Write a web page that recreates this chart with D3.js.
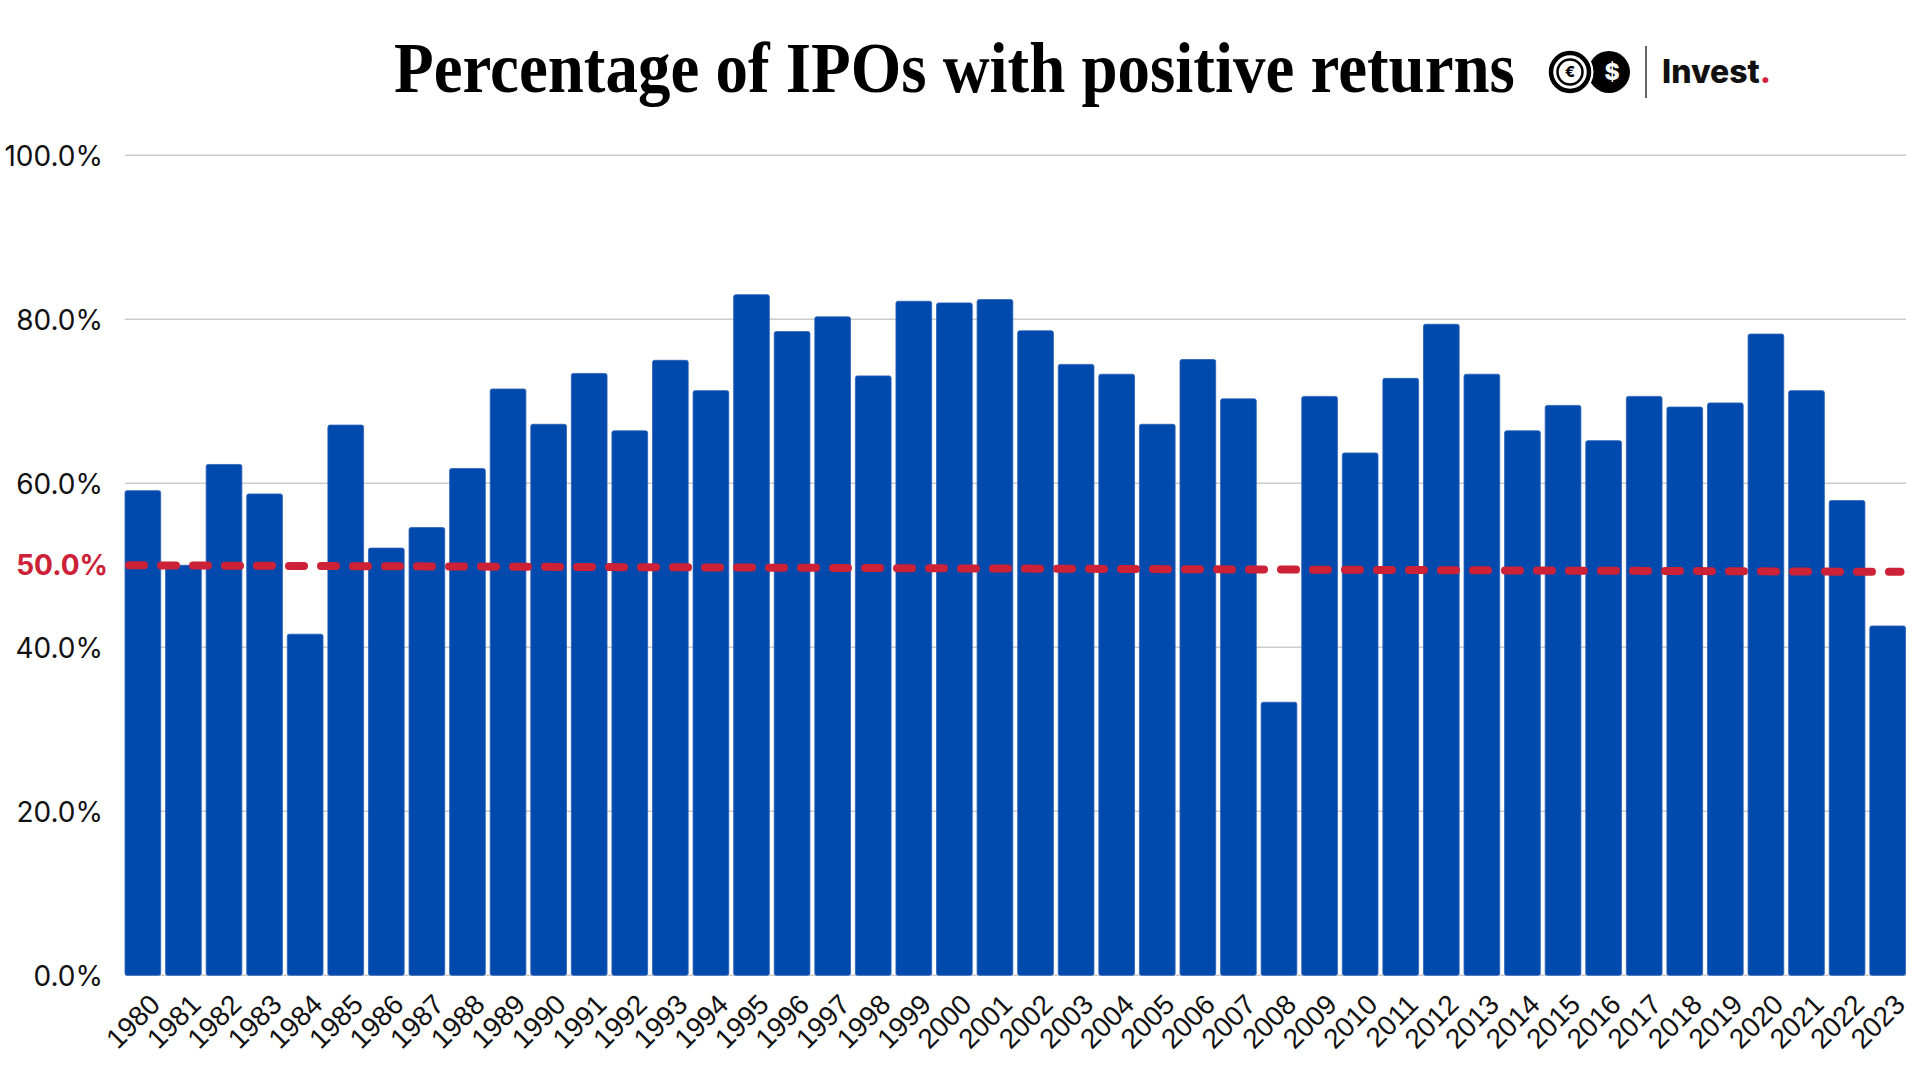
<!DOCTYPE html>
<html>
<head>
<meta charset="utf-8">
<script src="https://cdn.jsdelivr.net/npm/d3@7"></script>
<style>
  html, body { margin: 0; padding: 0; background: #fff; }
  svg { display: block; }
</style>
</head>
<body>
<svg id="chart" width="1920" height="1080"></svg>
<script>
const years = ["1980","1981","1982","1983","1984","1985","1986","1987","1988","1989",
  "1990","1991","1992","1993","1994","1995","1996","1997","1998","1999",
  "2000","2001","2002","2003","2004","2005","2006","2007","2008","2009",
  "2010","2011","2012","2013","2014","2015","2016","2017","2018","2019",
  "2020","2021","2022","2023"];
const positivePct = [59.1, 50.0, 62.3, 58.7, 41.6, 67.1, 52.1, 54.6, 61.8, 71.5,
  67.2, 73.4, 66.4, 75.0, 71.3, 83.0, 78.5, 80.3, 73.1, 82.2,
  82.0, 82.4, 78.6, 74.5, 73.3, 67.2, 75.1, 70.3, 33.3, 70.6,
  63.7, 72.8, 79.4, 73.3, 66.4, 69.5, 65.2, 70.6, 69.3, 69.8,
  78.2, 71.3, 57.9, 42.6];
const yTicks = [0, 20, 40, 60, 80, 100];
const refLineValues = [50.0, 49.2];   // dashed reference line, start and end
const refLabel = "50.0%";
const titleText = "Percentage of IPOs with positive returns";

const svg = d3.select("#chart");

const x = d3.scaleBand().domain(years).range([125, 1905.5]).paddingInner(0.12).paddingOuter(0);
const y = d3.scaleLinear().domain([0, 100]).range([975.3, 155.3]);
const fmt = d => d.toFixed(1) + "%";

// gridlines
svg.append("g")
  .selectAll("line").data(yTicks).join("line")
  .attr("x1", 125).attr("x2", 1906)
  .attr("y1", d => y(d)).attr("y2", d => y(d))
  .attr("stroke", "#cccccc").attr("stroke-width", 1.5);

// y axis labels
const yAxis = d3.axisLeft(y).tickValues(yTicks).tickFormat(fmt).tickSize(0).tickPadding(0);
const yg = svg.append("g").attr("transform", "translate(103,0)").call(yAxis);
yg.select(".domain").remove();
yg.selectAll("text")
  .attr("font-family", "Inter, 'Open Sans', sans-serif")
  .attr("font-size", 28)
  .attr("fill", "#111")
  .attr("dy", "0.35em");

// bars
svg.append("g")
  .selectAll("rect").data(years).join("rect")
  .attr("x", d => x(d))
  .attr("width", x.bandwidth())
  .attr("y", (d, i) => y(positivePct[i]))
  .attr("height", (d, i) => y(0) - y(positivePct[i]))
  .attr("rx", 2).attr("ry", 2)
  .attr("fill", "#004aad")
  .attr("stroke", "#2a60b6").attr("stroke-width", 0.8);

// x axis labels
const xAxis = d3.axisBottom(x).tickSize(0).tickPadding(0);
const xg = svg.append("g").attr("transform", `translate(0,${y(0)})`).call(xAxis);
xg.select(".domain").remove();
xg.selectAll("text")
  .attr("font-family", "'Liberation Sans', Arial, sans-serif")
  .attr("font-size", 28)
  .attr("fill", "#111")
  .attr("text-anchor", "end")
  .attr("dy", 0)
  .attr("transform", "translate(19,31) rotate(-45)");

// dashed reference line
const x0 = x(years[0]) + 4;
const x1 = x(years[years.length - 1]) + x.bandwidth() - 5;
svg.append("line")
  .attr("x1", x0).attr("x2", x1)
  .attr("y1", y(refLineValues[0])).attr("y2", y(refLineValues[1]))
  .attr("stroke", "#cc2136").attr("stroke-width", 8)
  .attr("stroke-linecap", "round")
  .attr("stroke-dasharray", "15 17");

svg.append("text")
  .attr("x", 108).attr("y", y(refLineValues[0]))
  .attr("dy", "0.35em")
  .attr("text-anchor", "end")
  .attr("font-family", "Inter, 'Open Sans', sans-serif")
  .attr("font-size", 28).attr("font-weight", 700)
  .attr("fill", "#cc2136")
  .text(refLabel);

// title (horizontally condensed to the reference width)
const title = svg.append("text")
  .attr("font-family", "'Liberation Serif', 'Times New Roman', serif")
  .attr("font-weight", 700)
  .attr("font-size", 72)
  .attr("fill", "#000")
  .text(titleText);
const natW = title.node().getComputedTextLength();
title.attr("transform", `translate(394,92) scale(${1121 / natW},1)`);

// logo
const logo = svg.append("g");
logo.append("circle").attr("cx", 1609).attr("cy", 72).attr("r", 21).attr("fill", "#000");
logo.append("circle").attr("cx", 1570).attr("cy", 72).attr("r", 23.5).attr("fill", "#fff");
logo.append("circle").attr("cx", 1570).attr("cy", 72).attr("r", 19).attr("fill", "none").attr("stroke", "#000").attr("stroke-width", 4.5);
logo.append("circle").attr("cx", 1570).attr("cy", 72).attr("r", 12.5).attr("fill", "none").attr("stroke", "#000").attr("stroke-width", 2.5);
logo.append("text").attr("x", 1570).attr("y", 72).attr("dy", "0.36em")
  .attr("text-anchor", "middle").attr("font-family", "Inter, sans-serif").attr("font-weight", 800)
  .attr("font-size", 15).attr("fill", "#000").text("€");
logo.append("text").attr("x", 1612).attr("y", 72).attr("dy", "0.36em")
  .attr("text-anchor", "middle").attr("font-family", "Inter, sans-serif").attr("font-weight", 800)
  .attr("font-size", 23).attr("fill", "#fff").text("$");
logo.append("line").attr("x1", 1646).attr("x2", 1646).attr("y1", 46).attr("y2", 98)
  .attr("stroke", "#333").attr("stroke-width", 1.5);
const inv = logo.append("text").attr("x", 1662).attr("y", 83)
  .attr("font-family", "Inter, sans-serif").attr("font-weight", 800).attr("font-size", 32).attr("fill", "#111");
inv.append("tspan").text("Invest");
inv.append("tspan").attr("fill", "#d4213d").text(".");
</script>
</body>
</html>
